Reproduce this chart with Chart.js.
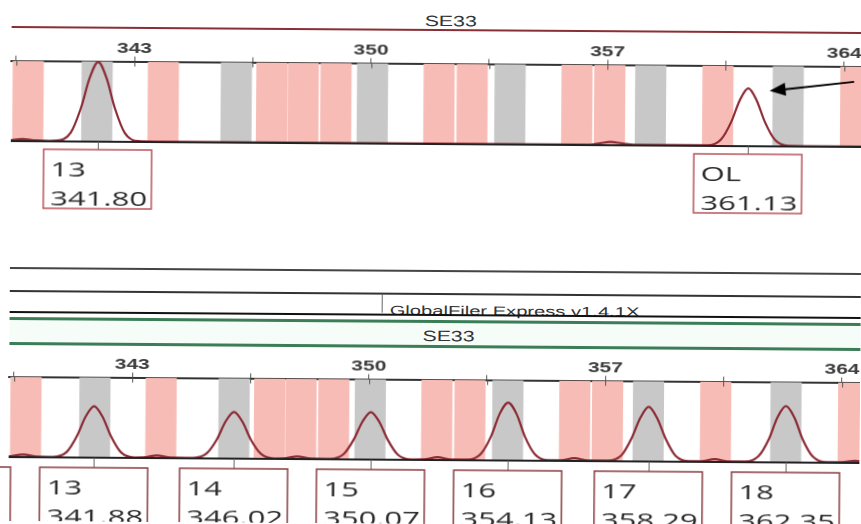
<!DOCTYPE html>
<html>
<head>
<meta charset="utf-8">
<script src="https://cdn.jsdelivr.net/npm/chart.js@4.4.1/dist/chart.umd.min.js"></script>
<style>
  html, body { margin: 0; padding: 0; background: #fff; }
  #page { position: relative; width: 861px; height: 524px; overflow: hidden; transform: rotate(0.4deg); }
  .hline { position: absolute; left: 10px; right: -20px; }
  .txt { position: absolute; font-family: "Liberation Sans", Arial, sans-serif; color: #333; transform-origin: left center; white-space: nowrap; }
  canvas { position: absolute; left: 0; }
</style>
</head>
<body>
<div id="page">
  <!-- top panel header -->
  <div class="txt" style="left:423px; top:12px; font-size:15px; transform:scaleX(1.42);">SE33</div>
  <div class="hline" style="top:29px; height:2px; background:#8a2f35;"></div>

  <!-- separator block between panels -->
  <div class="hline" style="top:270px; height:1.5px; background:#444;"></div>
  <div class="hline" style="top:293px; height:1.5px; background:#333;"></div>
  <div style="position:absolute; left:382px; top:294px; width:1px; height:19px; background:#666;"></div>
  <div class="txt" style="left:390px; top:303px; font-size:13px; transform:scaleX(1.55);">GlobalFiler Express v1.4.1X</div>
  <div class="hline" style="top:314px; height:2px; background:#111;"></div>
  <div class="hline" style="top:321px; height:26px; background:#f6fcf8;"></div>
  <div class="hline" style="top:320px; height:2.5px; background:#3b7d57;"></div>
  <div class="txt" style="left:423px; top:327px; font-size:15px; transform:scaleX(1.42);">SE33</div>
  <div class="hline" style="top:345px; height:2.5px; background:#3b7d57;"></div>

  <canvas id="topChart" width="861" height="230" style="top:0px;"></canvas>
  <canvas id="bottomChart" width="861" height="204" style="top:340px;"></canvas>
</div>

<script>
// axis (bp)
const xMin = 339.36, xMax = 364.54;
const tickValues = [339.5, 343, 346.5, 350, 353.5, 357, 360.5, 364];

// bins: centre in bp and kind (a = allele bin grey, v = virtual bin pink)
const binCenters = [339.86, 341.9, 343.86, 346.02, 347.07, 348.0, 348.97, 350.05, 352.02, 353.0, 354.12, 356.1, 357.07, 358.28, 360.27, 362.35, 364.35];
const binKinds   = ['v', 'a', 'v', 'a', 'v', 'v', 'v', 'a', 'v', 'v', 'a', 'v', 'v', 'a', 'v', 'a', 'v'];
const binWidth = 0.92;

// top sample trace (bp, rfu %)
const topTrace = [
  [339.36, 1.2], [339.7, 2.6], [340.1, 1.0], [340.5, 0.6],
  [340.73, 1], [341.13, 11], [341.43, 42], [341.68, 79], [341.93, 99], [342.18, 79], [342.43, 42], [342.73, 11], [343.13, 1],
  [343.6, 0.5], [350.0, 0.5], [356.5, 0.6], [356.8, 2.5], [357.1, 4.2], [357.45, 2.4], [357.8, 0.7],
  [359.97, 0.7], [360.37, 8], [360.67, 30], [360.92, 57], [361.17, 72], [361.42, 57], [361.67, 30], [361.97, 8], [362.37, 0.7],
  [363.0, 0.5], [364.54, 0.5]
];
const topPeakPos = [341.93, 361.17];
const topAlleles = ['13', 'OL'];
const topSizes = ['341.80', '361.13'];

// bottom ladder trace
const bottomTrace = [
  [339.36, 0.8], [339.8, 3.2], [340.2, 0.8],
  [340.68, 0.6], [341.08, 7], [341.38, 27], [341.63, 51], [341.88, 64], [342.13, 51], [342.38, 27], [342.68, 7], [343.08, 0.6],
  [343.35, 0.8], [343.75, 3.2], [344.15, 0.8],
  [344.82, 0.6], [345.22, 6.4], [345.52, 24], [345.77, 46], [346.02, 58], [346.27, 46], [346.52, 24], [346.82, 6.4], [347.22, 0.6],
  [347.5, 0.8], [347.9, 3.2], [348.3, 0.8],
  [348.87, 0.6], [349.27, 6.5], [349.57, 25], [349.82, 47], [350.07, 59], [350.32, 47], [350.57, 25], [350.87, 6.5], [351.27, 0.6],
  [351.65, 0.8], [352.05, 3.5], [352.45, 0.8],
  [352.93, 0.7], [353.33, 8], [353.63, 30], [353.88, 58], [354.13, 72], [354.38, 58], [354.63, 30], [354.93, 8], [355.33, 0.7],
  [355.7, 0.8], [356.1, 3.5], [356.5, 0.8],
  [357.09, 0.7], [357.49, 7.5], [357.79, 29], [358.04, 54], [358.29, 68], [358.54, 54], [358.79, 29], [359.09, 7.5], [359.49, 0.7],
  [359.85, 0.8], [360.25, 3.5], [360.65, 0.8],
  [361.15, 0.7], [361.55, 7.7], [361.85, 29], [362.1, 56], [362.35, 70], [362.6, 56], [362.85, 29], [363.15, 7.7], [363.55, 0.7],
  [364.0, 0.8], [364.4, 2.6], [364.54, 2.2]
];
const bottomPeakPos = [337.82, 341.88, 346.02, 350.07, 354.13, 358.29, 362.35];
const bottomAlleles = ['', '13', '14', '15', '16', '17', '18'];
const bottomSizes = ['', '341.88', '346.02', '350.07', '354.13', '358.29', '362.35'];

// arrow pointing at the OL peak (bp, %)
const arrowTail = [364.3, 81];
const arrowTip = [361.8, 69];

const binPlugin = {
  id: 'bins',
  beforeDatasetsDraw(chart) {
    const {ctx, chartArea, scales: {x}} = chart;
    ctx.save();
    ctx.beginPath();
    ctx.rect(chartArea.left, chartArea.top, chartArea.right - chartArea.left, chartArea.bottom - chartArea.top);
    ctx.clip();
    binCenters.forEach((c, i) => {
      const l = x.getPixelForValue(c - binWidth / 2);
      const r = x.getPixelForValue(c + binWidth / 2);
      ctx.fillStyle = binKinds[i] === 'a' ? '#c8c8c8' : '#f8bcb6';
      ctx.fillRect(l, chartArea.top, r - l, chartArea.bottom - chartArea.top);
    });
    // little tick marks running into the plot
    ctx.strokeStyle = '#555';
    ctx.lineWidth = 1;
    tickValues.forEach(v => {
      const px = Math.round(x.getPixelForValue(v)) + 0.5;
      ctx.beginPath();
      ctx.moveTo(px, chartArea.top);
      ctx.lineTo(px, chartArea.top + 5);
      ctx.stroke();
    });
    ctx.restore();
  },
  afterDraw(chart) {
    const {ctx, chartArea, scales: {x}} = chart;
    ctx.save();
    ctx.strokeStyle = '#222';
    ctx.lineWidth = 2;
    ctx.beginPath();
    ctx.moveTo(chartArea.left, chartArea.bottom);
    ctx.lineTo(chartArea.right, chartArea.bottom);
    ctx.stroke();
    // tick labels, stretched like the scan
    ctx.fillStyle = '#3c3c3c';
    ctx.font = 'bold 14px "Liberation Sans", Arial, sans-serif';
    ctx.textAlign = 'center';
    x.ticks.forEach(t => {
      if (t.value % 7 !== 0) return;
      ctx.save();
      ctx.translate(x.getPixelForValue(t.value), chartArea.top - 9);
      ctx.scale(1.5, 1);
      ctx.fillText(String(t.value), 0, 0);
      ctx.restore();
    });
    ctx.restore();
  }
};

const labelPlugin = {
  id: 'alleleBoxes',
  afterDraw(chart, args, opts) {
    const {ctx, chartArea, scales: {x, y}} = chart;
    ctx.save();
    opts.pos.forEach((p, i) => {
      const cx = x.getPixelForValue(p);
      const top = chartArea.bottom + opts.gap;
      // connector
      ctx.strokeStyle = '#666';
      ctx.lineWidth = 1;
      ctx.beginPath();
      ctx.moveTo(Math.round(cx) + 0.5, chartArea.bottom);
      ctx.lineTo(Math.round(cx) + 0.5, top);
      ctx.stroke();
      // box
      ctx.fillStyle = '#fff';
      ctx.fillRect(cx - 54, top, 108, opts.height);
      ctx.strokeStyle = opts.border;
      ctx.lineWidth = 1.5;
      ctx.strokeRect(cx - 54, top, 108, opts.height);
      // text, stretched like the scan
      ctx.fillStyle = '#2a2a2a';
      ctx.font = '20px "Open Sans", sans-serif';
      [opts.alleles[i], opts.sizes[i]].forEach((t, k) => {
        ctx.save();
        ctx.translate(cx - 47, top + 27 + k * 29);
        ctx.scale(1.55, 1);
        ctx.fillText(t, 0, 0);
        ctx.restore();
      });
    });
    if (opts.arrow) {
      const x0 = x.getPixelForValue(arrowTail[0]), y0 = y.getPixelForValue(arrowTail[1]);
      const x1 = x.getPixelForValue(arrowTip[0]), y1 = y.getPixelForValue(arrowTip[1]);
      const a = Math.atan2(y1 - y0, x1 - x0);
      ctx.strokeStyle = '#000';
      ctx.fillStyle = '#000';
      ctx.lineWidth = 2;
      ctx.beginPath();
      ctx.moveTo(x0, y0);
      ctx.lineTo(x1 - 10 * Math.cos(a), y1 - 10 * Math.sin(a));
      ctx.stroke();
      ctx.beginPath();
      ctx.moveTo(x1, y1);
      ctx.lineTo(x1 - 16 * Math.cos(a) + 6.5 * Math.sin(a), y1 - 16 * Math.sin(a) - 6.5 * Math.cos(a));
      ctx.lineTo(x1 - 16 * Math.cos(a) - 6.5 * Math.sin(a), y1 - 16 * Math.sin(a) + 6.5 * Math.cos(a));
      ctx.closePath();
      ctx.fill();
    }
    ctx.restore();
  }
};

function makeChart(id, trace, padTop, padBottom, boxes) {
  return new Chart(id, {
    type: 'line',
    data: {
      datasets: [{
        data: trace.map(p => ({x: p[0], y: p[1]})),
        borderColor: '#8c2a35',
        borderWidth: 2.2,
        pointRadius: 0,
        cubicInterpolationMode: 'monotone',
        fill: false
      }]
    },
    options: {
      responsive: false,
      animation: false,
      layout: {padding: {left: 10, right: 0, top: padTop, bottom: padBottom}},
      plugins: {legend: {display: false}, tooltip: {enabled: false}, alleleBoxes: boxes},
      scales: {
        x: {
          type: 'linear',
          position: 'top',
          min: xMin,
          max: xMax,
          afterBuildTicks: axis => { axis.ticks = tickValues.map(v => ({value: v})); },
          ticks: {
            autoSkip: false,
            maxRotation: 0,
            padding: 2,
            color: 'rgba(0,0,0,0)',
            font: {family: 'DejaVu Sans', size: 13, weight: 'bold'},
            callback: v => (v % 7 === 0 ? String(v) : '')
          },
          grid: {drawOnChartArea: false, drawTicks: true, tickLength: 5, color: '#555'},
          border: {display: true, color: '#333', width: 2}
        },
        y: {display: false, min: 0, max: 100}
      }
    },
    plugins: [binPlugin, labelPlugin]
  });
}

makeChart('topChart', topTrace, 39, 86, {
  pos: topPeakPos, alleles: topAlleles, sizes: topSizes,
  gap: 8, height: 59, border: '#b8555d', arrow: true
});
makeChart('bottomChart', bottomTrace, 15, 84, {
  pos: bottomPeakPos, alleles: bottomAlleles, sizes: bottomSizes,
  gap: 10, height: 80, border: '#8a3e42', arrow: false
});
</script>
</body>
</html>
